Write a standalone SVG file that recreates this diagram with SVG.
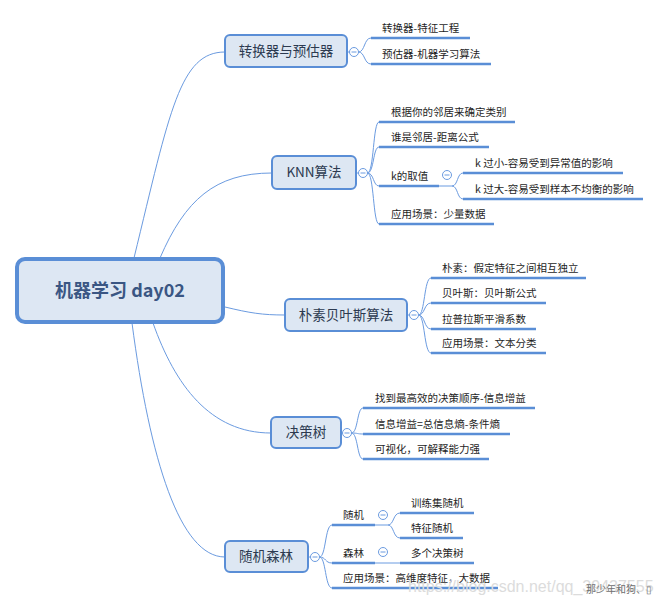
<svg xmlns="http://www.w3.org/2000/svg" width="661" height="605" viewBox="0 0 661 605">
<style>
.node rect{fill:#dde7f3;stroke:#5a8ed6;stroke-width:2}
.root rect{fill:#dde7f3;stroke:#5a8ed6;stroke-width:4}
.nt{font-family:"Noto Sans CJK SC","Noto Sans",sans-serif;font-size:13.5px;fill:#2c3a50;text-anchor:middle}
.rt{font-family:"Noto Sans CJK SC","Noto Sans",sans-serif;font-size:18px;font-weight:bold;fill:#3a5683;text-anchor:middle}
.lt{font-family:"Noto Sans CJK SC","Noto Sans",sans-serif;font-size:10.5px;fill:#1e1e1e}
.ul{stroke:#5a8ed6;stroke-width:2.6;fill:none}
.cn{stroke:#6b9be0;stroke-width:1;fill:none}
.tg circle{fill:#ffffff;stroke:#6b9be0;stroke-width:1}
.tg line{stroke:#6b9be0;stroke-width:1}
.wm{font-family:"Liberation Sans",Arial,sans-serif;font-size:16px;fill:#dcdcdc}
.wn{font-family:"Noto Sans CJK SC",sans-serif;font-size:10px;fill:#707070}
</style>

<g id="connectors">
<path class="cn" d="M134,258 C170,110 180,52 225,52"/>
<path class="cn" d="M160,258 C185,200 215,173 272,173"/>
<path class="cn" d="M225,307 C250,313 262,315 285,315"/>
<path class="cn" d="M153,323 C175,385 210,433 271,433"/>
<path class="cn" d="M132,323 C150,460 180,557 225,557"/>
<path class="cn" d="M347,52 H349.5 M356,173 H358.5 M407,315 H409.5 M341,433 H342.5 M308,557 H310.5"/>
<path class="cn" d="M358.5,52 C365,52 364,38 371,38 M358.5,52 C365,52 364,64 371,64"/>
<path class="cn" d="M367.5,173 C374,173 373,122 379,122 M367.5,173 C374,173 373,147 379,147 M367.5,173 C374,173 373,186 379,186 M367.5,173 C374,173 373,224 379,224"/>
<path class="cn" d="M439,186 H452 C458,186 457,173 463,173 M452,186 C458,186 457,199 463,199"/>
<path class="cn" d="M418.5,315 C425,315 424,278 431,278 M418.5,315 C425,315 424,303 431,303 M418.5,315 C425,315 424,329 431,329 M418.5,315 C425,315 424,353 431,353"/>
<path class="cn" d="M351.5,433 C358,433 357,408 363,408 M351.5,433 C358,433 357,434 363,434 M351.5,433 C358,433 357,459 363,459"/>
<path class="cn" d="M319.5,557 C326,557 325,525 332,525 M319.5,557 C326,557 325,563 332,563 M319.5,557 C326,557 325,588 332,588"/>
<path class="cn" d="M375,525 H388 C394,525 393,513 400,513 M388,525 C394,525 393,538 400,538"/>
<path class="cn" d="M375,563 H400"/>
</g>

<g id="root" class="root">
<rect x="17" y="259" width="206" height="63" rx="8"/>
<text class="rt" x="120" y="297">机器学习 day02</text>
</g>

<g id="n1" class="node">
<rect x="225" y="35" width="122" height="32" rx="5"/>
<text class="nt" x="286" y="56">转换器与预估器</text>
</g>
<g id="n2" class="node">
<rect x="272" y="156" width="84" height="33" rx="5"/>
<text class="nt" x="314" y="177">KNN算法</text>
</g>
<g id="n3" class="node">
<rect x="285" y="299" width="122" height="32" rx="5"/>
<text class="nt" x="346" y="320">朴素贝叶斯算法</text>
</g>
<g id="n4" class="node">
<rect x="271" y="417" width="70" height="31" rx="5"/>
<text class="nt" x="306" y="437">决策树</text>
</g>
<g id="n5" class="node">
<rect x="225" y="541" width="83" height="31" rx="5"/>
<text class="nt" x="266" y="561">随机森林</text>
</g>

<g id="toggles" class="tg">
<circle cx="354" cy="52" r="4.5"/><line x1="351.5" y1="52" x2="356.5" y2="52"/>
<circle cx="363" cy="173" r="4.5"/><line x1="360.5" y1="173" x2="365.5" y2="173"/>
<circle cx="447" cy="175" r="4.5"/><line x1="444.5" y1="175" x2="449.5" y2="175"/>
<circle cx="414" cy="315" r="4.5"/><line x1="411.5" y1="315" x2="416.5" y2="315"/>
<circle cx="347" cy="433" r="4.5"/><line x1="344.5" y1="433" x2="349.5" y2="433"/>
<circle cx="315" cy="557" r="4.5"/><line x1="312.5" y1="557" x2="317.5" y2="557"/>
<circle cx="383" cy="515" r="4.5"/><line x1="380.5" y1="515" x2="385.5" y2="515"/>
<circle cx="383" cy="552" r="4.5"/><line x1="380.5" y1="552" x2="385.5" y2="552"/>
</g>

<g id="leaves-n1">
<path class="ul" d="M371,38 H470 M371,64 H491"/>
<text class="lt" x="382" y="32">转换器-特征工程</text>
<text class="lt" x="382" y="58">预估器-机器学习算法</text>
</g>

<g id="leaves-n2">
<path class="ul" d="M379,122 H515 M379,147 H489 M379,186 H439 M379,224 H494 M463,173 H623 M463,199 H643"/>
<text class="lt" x="391" y="116">根据你的邻居来确定类别</text>
<text class="lt" x="391" y="141">谁是邻居-距离公式</text>
<text class="lt" x="391" y="180">k的取值</text>
<text class="lt" x="391" y="218">应用场景：少量数据</text>
<text class="lt" x="475" y="167">k 过小-容易受到异常值的影响</text>
<text class="lt" x="475" y="193">k 过大-容易受到样本不均衡的影响</text>
</g>

<g id="leaves-n3">
<path class="ul" d="M431,278 H586 M431,303 H546 M431,329 H536 M431,353 H546"/>
<text class="lt" x="442" y="272">朴素：假定特征之间相互独立</text>
<text class="lt" x="442" y="297">贝叶斯：贝叶斯公式</text>
<text class="lt" x="442" y="323">拉普拉斯平滑系数</text>
<text class="lt" x="442" y="347">应用场景：文本分类</text>
</g>

<g id="leaves-n4">
<path class="ul" d="M363,408 H535 M363,434 H510 M363,459 H489"/>
<text class="lt" x="375" y="402">找到最高效的决策顺序-信息增益</text>
<text class="lt" x="375" y="428">信息增益=总信息熵-条件熵</text>
<text class="lt" x="375" y="453">可视化，可解释能力强</text>
</g>

<g id="leaves-n5">
<path class="ul" d="M332,525 H375 M332,563 H375 M332,588 H498 M400,513 H474 M400,538 H463 M400,563 H474"/>
<text class="lt" x="343" y="519">随机</text>
<text class="lt" x="343" y="557">森林</text>
<text class="lt" x="343" y="582">应用场景：高维度特征，大数据</text>
<text class="lt" x="411" y="507">训练集随机</text>
<text class="lt" x="411" y="532">特征随机</text>
<text class="lt" x="411" y="557">多个决策树</text>
</g>

<g id="watermark">
<text class="wm" x="408" y="592">https://blog.csdn.net/qq_39437555</text>
<text class="wn" x="586" y="593">那少年和狗、▯</text>
</g>
</svg>
